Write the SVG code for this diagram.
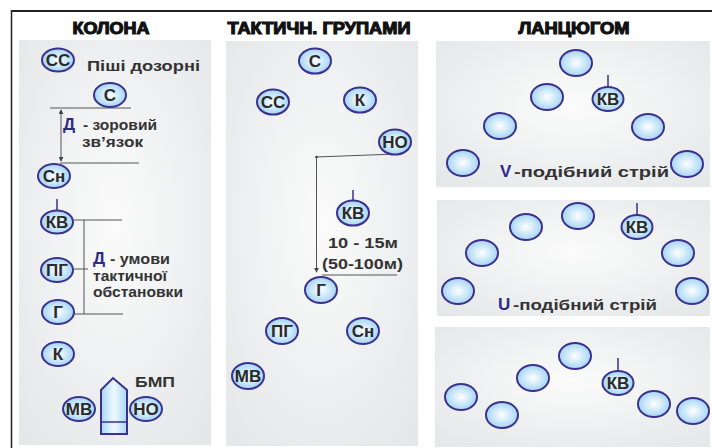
<svg xmlns="http://www.w3.org/2000/svg" width="712" height="448" viewBox="0 0 712 448">
<defs>
<radialGradient id="g" cx="50%" cy="50%" r="55%">
<stop offset="0" stop-color="#ffffff"/>
<stop offset="1" stop-color="#9bd1f3"/>
</radialGradient>
<radialGradient id="bg" cx="50%" cy="45%" r="70%">
<stop offset="0" stop-color="#fbfbfb"/>
<stop offset="1" stop-color="#e5e7e8"/>
</radialGradient>
<linearGradient id="bmp" x1="0" y1="0" x2="1" y2="0">
<stop offset="0" stop-color="#a8d8f4"/>
<stop offset="0.5" stop-color="#eef8ff"/>
<stop offset="1" stop-color="#a8d8f4"/>
</linearGradient>
<marker id="ah" viewBox="0 0 6 6" refX="5" refY="3" markerWidth="5" markerHeight="5" orient="auto-start-reverse">
<path d="M0,0 L6,3 L0,6 z" fill="#444"/>
</marker>
<style>
.p{fill:url(#bg)}
.n{fill:url(#g);stroke:#3a3190;stroke-width:2}
.t{font-family:"Liberation Sans",Arial,sans-serif;font-weight:bold;font-size:17px;fill:#2a2a2a;text-anchor:middle}
.h{font-family:"Liberation Sans",Arial,sans-serif;font-weight:bold;font-size:16px;fill:#111;stroke:#111;stroke-width:1.1;text-anchor:middle}
.l{font-family:"Liberation Sans",Arial,sans-serif;font-weight:bold;font-size:15px;fill:#333}
.b{font-family:"Liberation Sans",Arial,sans-serif;font-weight:bold;font-size:17px;fill:#2e2a8a}
.d{stroke:#555;stroke-width:1;fill:none}
.k{stroke:#3a3190;stroke-width:1.5}
</style>
</defs>
<rect width="712" height="448" fill="#ffffff"/>
<line x1="11" y1="11" x2="712" y2="11" stroke="#222" stroke-width="2.2"/>
<line x1="11.5" y1="10" x2="11.5" y2="448" stroke="#222" stroke-width="1.5"/>

<g id="panels">
<rect class="p" x="19" y="40" width="192" height="405"/>
<rect class="p" x="226" y="41" width="192" height="405"/>
<rect class="p" x="436" y="41" width="274" height="146"/>
<rect class="p" x="437" y="200" width="273" height="116"/>
<rect class="p" x="435" y="327" width="275" height="120"/>
</g>

<g id="titles">
<text class="h" x="111" y="34" textLength="77" lengthAdjust="spacingAndGlyphs">КОЛОНА</text>
<text class="h" x="319" y="34" textLength="183" lengthAdjust="spacingAndGlyphs">ТАКТИЧН. ГРУПАМИ</text>
<text class="h" x="574" y="34" textLength="111" lengthAdjust="spacingAndGlyphs">ЛАНЦЮГОМ</text>
</g>

<g id="connectors">
<line class="d" x1="50" y1="108" x2="131" y2="108"/>
<line class="d" x1="61" y1="110" x2="61" y2="161" marker-start="url(#ah)" marker-end="url(#ah)"/>
<line class="d" x1="60" y1="163" x2="139" y2="163"/>
<line class="d" x1="72" y1="220" x2="122" y2="220"/>
<line class="d" x1="84" y1="220" x2="84" y2="314"/>
<line class="d" x1="73" y1="269" x2="88" y2="269"/>
<line class="d" x1="73" y1="314" x2="123" y2="314"/>
<line class="d" x1="396" y1="154" x2="316" y2="157"/>
<line class="d" x1="316.5" y1="157" x2="316.5" y2="272" marker-end="url(#ah)"/>
<circle cx="316.5" cy="157" r="1.3" fill="#444"/>
<line class="d" x1="322" y1="275" x2="397" y2="275"/>
<line class="k" x1="57" y1="199" x2="57" y2="211"/>
<line class="k" x1="353" y1="190" x2="353" y2="201"/>
<line class="k" x1="608" y1="75" x2="608" y2="87"/>
<line class="k" x1="637" y1="203" x2="637" y2="215"/>
<line class="k" x1="618" y1="358" x2="618" y2="371"/>
</g>

<g id="labels">
<text class="l" x="87" y="71" font-size="16" textLength="113" lengthAdjust="spacingAndGlyphs">Піші дозорні</text>
<text class="b" x="63" y="130">Д</text>
<text class="l" x="83" y="130" textLength="74" lengthAdjust="spacingAndGlyphs">- зоровий</text>
<text class="l" x="82" y="147" textLength="61" lengthAdjust="spacingAndGlyphs">зв’язок</text>
<text class="b" x="93" y="264">Д</text>
<text class="l" x="110" y="264" textLength="60" lengthAdjust="spacingAndGlyphs">- умови</text>
<text class="l" x="93" y="281" textLength="74" lengthAdjust="spacingAndGlyphs">тактичної</text>
<text class="l" x="93" y="297" textLength="90" lengthAdjust="spacingAndGlyphs">обстановки</text>
<text class="l" x="135" y="387" font-size="16" textLength="40" lengthAdjust="spacingAndGlyphs">БМП</text>
<text class="l" x="328" y="248" font-size="16" textLength="70" lengthAdjust="spacingAndGlyphs">10 - 15м</text>
<text class="l" x="322" y="269" font-size="16" textLength="81" lengthAdjust="spacingAndGlyphs">(50-100м)</text>
<text class="b" x="500" y="177" font-size="21">V</text>
<text class="l" x="514" y="177" font-size="16" textLength="155" lengthAdjust="spacingAndGlyphs">-подібний стрій</text>
<text class="b" x="498" y="310" font-size="21">U</text>
<text class="l" x="513" y="310" font-size="16" textLength="144" lengthAdjust="spacingAndGlyphs">-подібний стрій</text>
</g>

<g id="bmp-vehicle">
<path d="M101,390 L113,378 L127,390 L127,434 L101,434 Z" fill="url(#bmp)" stroke="#3a3190" stroke-width="2"/>
<line x1="101" y1="422" x2="127" y2="422" stroke="#3a3190" stroke-width="1.5"/>
</g>

<g id="col-SS"><ellipse class="n" cx="58" cy="60" rx="16" ry="11.5"/><text class="t" x="58" y="66">СС</text></g>
<g id="col-S"><ellipse class="n" cx="110" cy="95" rx="16" ry="12"/><text class="t" x="110" y="101">С</text></g>
<g id="col-Sn"><ellipse class="n" cx="54" cy="176" rx="16" ry="12"/><text class="t" x="54" y="182">Сн</text></g>
<g id="col-KV"><ellipse class="n" cx="57" cy="222" rx="16" ry="11.5"/><text class="t" x="57" y="228">КВ</text></g>
<g id="col-PG"><ellipse class="n" cx="57" cy="270" rx="16" ry="12"/><text class="t" x="57" y="276">ПГ</text></g>
<g id="col-G"><ellipse class="n" cx="58" cy="312" rx="16" ry="12"/><text class="t" x="58" y="318">Г</text></g>
<g id="col-K"><ellipse class="n" cx="58" cy="354" rx="16" ry="12"/><text class="t" x="58" y="360">К</text></g>
<g id="col-MV"><ellipse class="n" cx="79" cy="409" rx="16" ry="12"/><text class="t" x="79" y="415">МВ</text></g>
<g id="col-NO"><ellipse class="n" cx="146" cy="409" rx="16" ry="12"/><text class="t" x="146" y="415">НО</text></g>

<g id="grp-S"><ellipse class="n" cx="315" cy="61" rx="16" ry="12.5"/><text class="t" x="315" y="67">С</text></g>
<g id="grp-SS"><ellipse class="n" cx="273" cy="102" rx="16" ry="12.5"/><text class="t" x="273" y="108">СС</text></g>
<g id="grp-K"><ellipse class="n" cx="360" cy="100" rx="16" ry="12.5"/><text class="t" x="360" y="106">К</text></g>
<g id="grp-NO"><ellipse class="n" cx="395" cy="142" rx="16" ry="12.5"/><text class="t" x="395" y="148">НО</text></g>
<g id="grp-KV"><ellipse class="n" cx="353" cy="213" rx="16" ry="12.5"/><text class="t" x="353" y="219">КВ</text></g>
<g id="grp-G"><ellipse class="n" cx="321" cy="290" rx="16" ry="13"/><text class="t" x="321" y="296">Г</text></g>
<g id="grp-PG"><ellipse class="n" cx="282" cy="331" rx="16" ry="13"/><text class="t" x="282" y="337">ПГ</text></g>
<g id="grp-Sn"><ellipse class="n" cx="363" cy="331" rx="16" ry="13"/><text class="t" x="363" y="337">Сн</text></g>
<g id="grp-MV"><ellipse class="n" cx="248" cy="376" rx="16" ry="13"/><text class="t" x="248" y="382">МВ</text></g>

<g id="v-1"><ellipse class="n" cx="576" cy="63" rx="16" ry="13"/></g>
<g id="v-2"><ellipse class="n" cx="547" cy="97" rx="16" ry="13"/></g>
<g id="v-KV"><ellipse class="n" cx="608" cy="99" rx="15.5" ry="12"/><text class="t" x="608" y="105">КВ</text></g>
<g id="v-3"><ellipse class="n" cx="500" cy="126" rx="16" ry="13"/></g>
<g id="v-4"><ellipse class="n" cx="648" cy="127" rx="16" ry="13"/></g>
<g id="v-5"><ellipse class="n" cx="463" cy="163" rx="16" ry="13"/></g>
<g id="v-6"><ellipse class="n" cx="687" cy="164" rx="16" ry="13"/></g>

<g id="u-1"><ellipse class="n" cx="578" cy="216" rx="16" ry="13"/></g>
<g id="u-2"><ellipse class="n" cx="526" cy="227" rx="16" ry="13"/></g>
<g id="u-KV"><ellipse class="n" cx="637" cy="227" rx="15.5" ry="12"/><text class="t" x="637" y="233">КВ</text></g>
<g id="u-3"><ellipse class="n" cx="482" cy="253" rx="16" ry="13"/></g>
<g id="u-4"><ellipse class="n" cx="678" cy="253" rx="16" ry="13"/></g>
<g id="u-5"><ellipse class="n" cx="458" cy="291" rx="16" ry="13"/></g>
<g id="u-6"><ellipse class="n" cx="692" cy="291" rx="16" ry="13"/></g>

<g id="c-1"><ellipse class="n" cx="575" cy="356" rx="16" ry="13"/></g>
<g id="c-2"><ellipse class="n" cx="533" cy="378" rx="16" ry="13"/></g>
<g id="c-KV"><ellipse class="n" cx="618" cy="383" rx="15.5" ry="12"/><text class="t" x="618" y="389">КВ</text></g>
<g id="c-3"><ellipse class="n" cx="461" cy="397" rx="16" ry="13"/></g>
<g id="c-4"><ellipse class="n" cx="502" cy="415" rx="16" ry="13"/></g>
<g id="c-5"><ellipse class="n" cx="654" cy="404" rx="16" ry="13"/></g>
<g id="c-6"><ellipse class="n" cx="693" cy="411" rx="16" ry="13"/></g>
</svg>
